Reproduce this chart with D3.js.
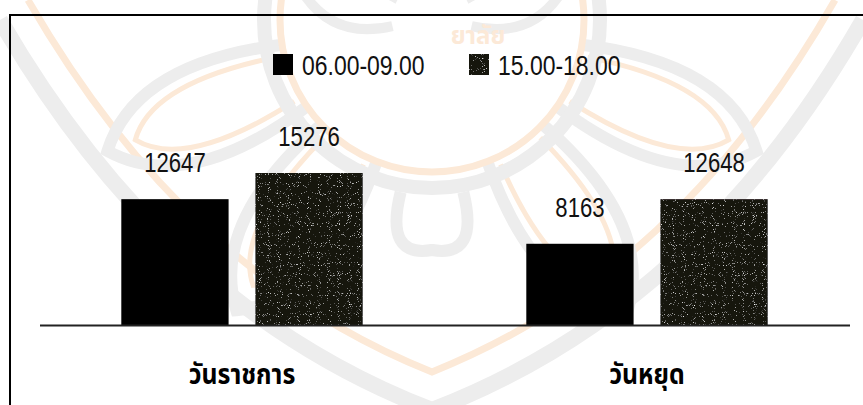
<!DOCTYPE html>
<html>
<head>
<meta charset="utf-8">
<script src="https://cdn.jsdelivr.net/npm/d3@7/dist/d3.min.js"></script>
<style>
  html, body { margin: 0; padding: 0; background: #fff; }
  svg { display: block; }
  .num { font-family: "Liberation Sans", Arial, sans-serif; }
  .cat { font-family: "Noto Sans Thai", "Noto Sans Thai UI", "Noto Sans", sans-serif; font-weight: 700; }
</style>
</head>
<body>
<script>
// Vehicle counts by time window, working days vs. holidays
const categories = ["วันราชการ", "วันหยุด"];
const seriesNames = ["06.00-09.00", "15.00-18.00"];
const morningValues = [12647, 8163];
const eveningValues = [15276, 12648];

const W = 863, H = 405;
const NARROW = 0.82; // horizontal squeeze for the condensed numerals
const svg = d3.select("body").append("svg").attr("width", W).attr("height", H);
const defs = svg.append("defs");

// Grainy dark fill for the afternoon series
const f = defs.append("filter").attr("id", "speckle")
  .attr("x", 0).attr("y", 0).attr("width", "100%").attr("height", "100%");
f.append("feTurbulence").attr("type", "fractalNoise").attr("baseFrequency", 1.1)
  .attr("numOctaves", 1).attr("seed", 7).attr("result", "noise");
f.append("feColorMatrix").attr("in", "noise").attr("type", "matrix")
  .attr("values", "0 0 0 0 1  0 0 0 0 1  0 0 0 0 1  1 0 0 0 0").attr("result", "white");
f.append("feComponentTransfer").attr("in", "white").attr("result", "dots")
  .append("feFuncA").attr("type", "linear").attr("slope", 5).attr("intercept", -3.2);
f.append("feComposite").attr("in", "dots").attr("in2", "SourceGraphic")
  .attr("operator", "in").attr("result", "clipped");
const fm = f.append("feMerge");
fm.append("feMergeNode").attr("in", "SourceGraphic");
fm.append("feMergeNode").attr("in", "clipped");

// Faint lotus seal in the page background
const wm = svg.append("g").attr("fill", "none");
const grey = "#ededed", orange = "#fce9d7";
const C = [432, 20];
wm.append("path").attr("d", "M0,20 C110,210 250,340 432,410 C614,340 754,210 863,20")
  .attr("stroke", grey).attr("stroke-width", 16);
wm.append("path").attr("d", "M28,0 C135,185 265,305 432,372 C599,305 729,185 835,0")
  .attr("stroke", orange).attr("stroke-width", 7);
const petal = (ang, r0, r1, half) => {
  const a = ang * Math.PI / 180;
  const pt = (r, da) => [C[0] + r * Math.sin(a + da), C[1] + r * Math.cos(a + da)];
  const p0 = pt(r0, -half), p1 = pt(r0, half), tip = pt(r1, 0);
  const c0 = pt((r0 + r1) * 0.6, -half * 1.1), c1 = pt((r0 + r1) * 0.6, half * 1.1);
  return `M${p0} Q${c0} ${tip} Q${c1} ${p1}`;
};
[-68, -34, 34, 68].forEach(ang => {
  wm.append("path").attr("d", petal(ang, 150, 350, 0.22))
    .attr("stroke", grey).attr("stroke-width", 12);
  wm.append("path").attr("d", petal(ang, 160, 320, 0.15))
    .attr("stroke", orange).attr("stroke-width", 5);
});
[-150, -110, 110, 150].forEach(ang => {
  wm.append("path").attr("d", petal(ang, 40, 150, 0.5))
    .attr("stroke", grey).attr("stroke-width", 10);
});
wm.append("path").attr("d", petal(0, 175, 230, 0.18))
  .attr("stroke", grey).attr("stroke-width", 12);
wm.append("circle").attr("cx", C[0]).attr("cy", C[1]).attr("r", 168)
  .attr("stroke", grey).attr("stroke-width", 14);
wm.append("circle").attr("cx", C[0]).attr("cy", C[1]).attr("r", 152)
  .attr("stroke", orange).attr("stroke-width", 7);
wm.append("text").attr("x", 478).attr("y", 44).attr("text-anchor", "middle")
  .attr("fill", orange).attr("font-size", 24).attr("class", "cat").text("ยาลัย");

// Frame
svg.append("rect").attr("x", 10).attr("y", 15).attr("width", W + 20).attr("height", H + 20)
  .attr("fill", "none").attr("stroke", "#000").attr("stroke-width", 2);

// Scales
const x0 = d3.scaleBand().domain(categories).range([39.5, 849.5]).padding(0);
const x1 = d3.scaleBand().domain(seriesNames).range([0, x0.bandwidth()])
  .paddingInner(0.2).paddingOuter(0.61);
const y = d3.scaleLinear().domain([0, 20000]).range([325, 126]);

const rows = categories.map((c, i) => ({
  cat: c,
  vals: [
    { s: seriesNames[0], v: morningValues[i] },
    { s: seriesNames[1], v: eveningValues[i] }
  ]
}));

const groups = svg.selectAll("g.grp").data(rows).join("g")
  .attr("class", "grp").attr("transform", d => `translate(${x0(d.cat)},0)`);

groups.selectAll("rect").data(d => d.vals).join("rect")
  .attr("x", d => x1(d.s)).attr("width", x1.bandwidth())
  .attr("y", d => y(d.v)).attr("height", d => y(0) - y(d.v))
  .attr("fill", (d, i) => i === 0 ? "#000" : "#141210")
  .attr("filter", (d, i) => i === 0 ? null : "url(#speckle)");

groups.selectAll("text.val").data(d => d.vals).join("text")
  .attr("class", "val num")
  .attr("transform", d => `translate(${x1(d.s) + x1.bandwidth() / 2},${y(d.v) - 27}) scale(${NARROW},1)`)
  .attr("text-anchor", "middle").attr("font-size", 27).attr("fill", "#111")
  .text(d => d.v);

// Baseline axis
const xAxis = d3.axisBottom(x0).tickSize(0).tickPadding(0).tickFormat("");
const ax = svg.append("g").attr("transform", `translate(0,${y(0)})`).call(xAxis);
ax.select(".domain").attr("stroke", "#222").attr("stroke-width", 2);

// Category labels
svg.selectAll("text.catlab").data(categories).join("text")
  .attr("class", "catlab cat")
  .attr("transform", d => `translate(${x0(d) + x0.bandwidth() / 2},384) scale(0.92,1.08)`)
  .attr("text-anchor", "middle").attr("font-size", 27).attr("fill", "#000")
  .text(d => d);

// Legend
const legendX = [273, 469];
const lg = svg.selectAll("g.lg").data(seriesNames).join("g")
  .attr("class", "lg").attr("transform", (d, i) => `translate(${legendX[i]},54)`);
lg.append("rect").attr("width", 20).attr("height", 21)
  .attr("fill", (d, i) => i === 0 ? "#000" : "#141210")
  .attr("filter", (d, i) => i === 0 ? null : "url(#speckle)");
lg.append("text").attr("class", "num")
  .attr("transform", `translate(29,21) scale(${NARROW},1)`)
  .attr("font-size", 28).attr("fill", "#111").text(d => d);
</script>
</body>
</html>
